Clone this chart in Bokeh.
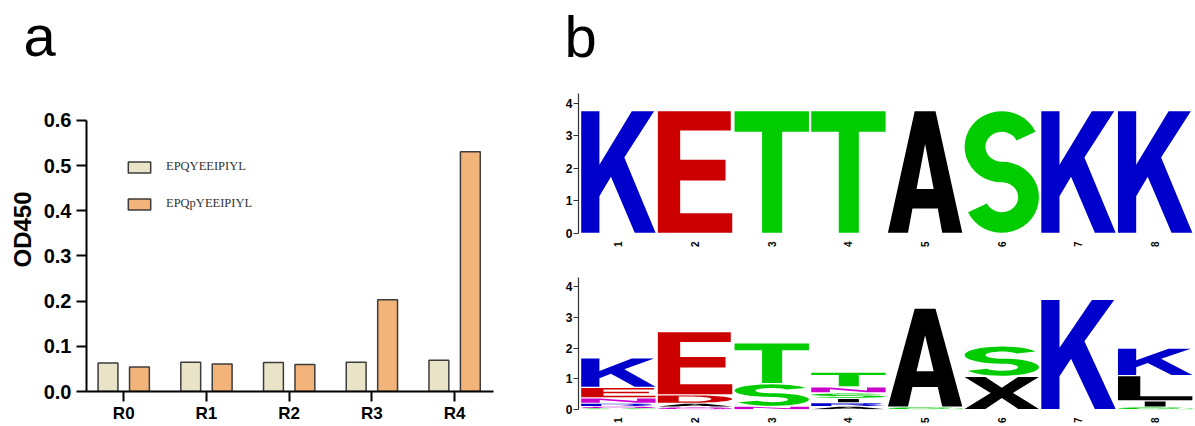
import math
import numpy as np
from bokeh.plotting import figure
from bokeh.models import (Range1d, FixedTicker, PrintfTickFormatter, Legend,
                          LegendItem, ColumnDataSource, Title)
from bokeh.transform import dodge
from bokeh.layouts import row, column
from bokeh.embed import file_html
from bokeh.resources import INLINE

# ---------------- data ----------------
panel_labels = ["a", "b"]
categories = ["R0", "R1", "R2", "R3", "R4"]
series_names = ["EPQYEEIPIYL", "EPQpYEEIPIYL"]
od_epqy = [0.063, 0.065, 0.064, 0.065, 0.069]
od_epqpy = [0.054, 0.061, 0.060, 0.203, 0.531]
y_ticks = [0.0, 0.1, 0.2, 0.3, 0.4, 0.5, 0.6]

logo_positions = [1, 2, 3, 4, 5, 6, 7, 8]
logo_ticks = [0, 1, 2, 3, 4]
logo_top_letters = ["K", "E", "T", "T", "A", "S", "K", "K"]
logo_top_heights = [3.78, 3.78, 3.78, 3.78, 3.78, 3.78, 3.78, 3.78]

# bottom logo: stacks from bottom to top
logo_bottom_letters = [
    ["G", "Q", "R", "N", "E", "K"],
    ["Q", "A", "D", "E"],
    ["N", "S", "T"],
    ["A", "R", "I", "S", "N", "T"],
    ["G", "A"],
    ["X", "S"],
    ["K"],
    ["G", "I", "L", "K"],
]
logo_bottom_heights = [
    [0.04, 0.06, 0.10, 0.18, 0.34, 0.96],
    [0.08, 0.12, 0.28, 2.06],
    [0.10, 0.74, 1.33],
    [0.10, 0.12, 0.14, 0.18, 0.20, 0.48],
    [0.08, 3.22],
    [1.08, 0.99],
    [3.59],
    [0.08, 0.20, 0.82, 0.90],
]

# ---------------- styles ----------------
BEIGE = "#E9E4C7"
ORANGE = "#F2B47A"
EDGE = "#3C3C3C"
SANS = "Liberation Sans"
LETTER_COLORS = {
    "K": "#0000CC", "R": "#0000CC", "H": "#0000CC",
    "D": "#CC0000", "E": "#CC0000",
    "S": "#00CC00", "T": "#00CC00", "G": "#00CC00", "Y": "#00CC00", "C": "#00CC00",
    "N": "#CC00CC", "Q": "#CC00CC",
}


def arc(cx, cy, rx, ry, t0, t1, n=28):
    t = np.radians(np.linspace(t0, t1, n))
    return list(zip(cx + rx * np.cos(t), cy + ry * np.sin(t)))


def s_shape(hx=0.14, hy=0.085, a0=25, a1=-155):
    ay = (0.5 - hy) / 2
    cy1, cy2 = 0.5 + ay, 0.5 - ay
    ax = 0.5 - hx
    left = arc(0.5, cy1, ax - hx, ay - hy, a0, 270) + arc(0.5, cy2, ax + hx, ay + hy, 90, a1)
    right = arc(0.5, cy2, ax - hx, ay - hy, a1, 90) + arc(0.5, cy1, ax + hx, ay + hy, 270, a0)
    return [[left + right]]


# glyph outlines in a unit box (shape templates only)
TEMPLATES = {
    "K": [[[(0, 0), (0.245, 0), (0.245, 0.3), (0.4, 0.46), (0.72, 0), (1.0, 0),
            (0.58, 0.62), (0.98, 1), (0.68, 1), (0.245, 0.56), (0.245, 1), (0, 1)]]],
    "E": [[[(0, 0), (1, 0), (1, 0.16), (0.3, 0.16), (0.3, 0.43), (0.91, 0.43),
            (0.91, 0.6), (0.3, 0.6), (0.3, 0.84), (0.98, 0.84), (0.98, 1), (0, 1)]]],
    "T": [[[(0, 1), (1, 1), (1, 0.83), (0.64, 0.83), (0.64, 0), (0.37, 0),
            (0.37, 0.83), (0, 0.83)]]],
    "A": [[[(0, 0), (0.27, 0), (0.33, 0.2), (0.67, 0.2), (0.73, 0), (1, 0),
            (0.64, 1), (0.36, 1)],
           [(0.385, 0.36), (0.615, 0.36), (0.5, 0.73)]]],
    "S": s_shape(),
    "D": [[[(0, 0)] + arc(0.45, 0.5, 0.55, 0.5, -90, 90) + [(0, 1)],
           [(0.28, 0.16)] + arc(0.45, 0.5, 0.27, 0.34, -90, 90) + [(0.28, 0.84)]]],
    "X": [[[(0, 0), (0.28, 0), (0.5, 0.34), (0.72, 0), (1, 0), (0.65, 0.5), (1, 1),
            (0.72, 1), (0.5, 0.66), (0.28, 1), (0, 1), (0.35, 0.5)]]],
    "L": [[[(0, 0), (1, 0), (1, 0.17), (0.3, 0.17), (0.3, 1), (0, 1)]]],
    "I": [[[(0.36, 0), (0.64, 0), (0.64, 1), (0.36, 1)]]],
    "N": [[[(0, 0), (0.25, 0), (0.25, 0.62), (0.75, 0), (1, 0), (1, 1), (0.75, 1),
            (0.75, 0.38), (0.25, 1), (0, 1)]]],
    "Q": [[arc(0.5, 0.5, 0.5, 0.5, 0, 360, 48), arc(0.5, 0.5, 0.26, 0.32, 0, 360, 48)],
          [[(0.55, 0.3), (0.72, 0.38), (1.0, 0.08), (0.84, 0.0)]]],
    "G": [[arc(0.5, 0.5, 0.5, 0.5, 40, 360, 40) + arc(0.5, 0.5, 0.25, 0.32, 360, 40, 40)],
          [[(0.55, 0.36), (0.55, 0.52), (1.0, 0.52), (1.0, 0.0), (0.82, 0.0), (0.82, 0.36)]]],
    "R": [[[(0, 0), (0.27, 0), (0.27, 0.42), (0.5, 0.42), (0.75, 0), (1.0, 0), (0.72, 0.46),
            (0.85, 0.55), (0.95, 0.7), (0.93, 0.88), (0.8, 0.98), (0.6, 1), (0, 1)],
           [(0.27, 0.58), (0.6, 0.58), (0.7, 0.65), (0.7, 0.78), (0.6, 0.84), (0.27, 0.84)]]],
}


def logo_source(letters_per_pos, heights_per_pos):
    xs, ys, colors = [], [], []
    w = 0.97
    for pos, letters, heights in zip(logo_positions, letters_per_pos, heights_per_pos):
        bottom = 0.0
        for ch, h in zip(letters, heights):
            pad = min(0.02, 0.12 * h)
            y0, hh = bottom + pad, h - 2 * pad
            x0 = pos - w / 2
            polys = TEMPLATES[ch]
            xs.append([[[x0 + u * w for u, v in ring] for ring in poly] for poly in polys])
            ys.append([[[y0 + v * hh for u, v in ring] for ring in poly] for poly in polys])
            colors.append(LETTER_COLORS.get(ch, "#000000"))
            bottom += h
    return ColumnDataSource(dict(xs=xs, ys=ys, color=colors))


def panel_title(text, offset):
    return Title(text=text, align="left", offset=offset, standoff=0,
                 text_font=SANS, text_font_size="58px", text_font_style="normal",
                 text_color="black")


# ---------------- panel a ----------------
# frame reaches up to the title; the axis itself is bounded to 0..0.6
pa = figure(width=548, height=426, x_range=Range1d(-0.45, 4.47), y_range=Range1d(0, 0.7173),
            output_backend="svg", toolbar_location=None,
            min_border_left=86, min_border_right=55, min_border_top=67, min_border_bottom=35)
pa.title = panel_title(panel_labels[0], -63)
pa.outline_line_color = None
pa.grid.visible = False

src = ColumnDataSource(dict(x=list(range(len(categories))), a=od_epqy, b=od_epqpy))
r1 = pa.vbar(x=dodge("x", -0.19, range=pa.x_range), top="a", width=0.24, source=src,
             fill_color=BEIGE, line_color=EDGE, line_width=1.5)
r2 = pa.vbar(x=dodge("x", 0.19, range=pa.x_range), top="b", width=0.24, source=src,
             fill_color=ORANGE, line_color=EDGE, line_width=1.5)

for ax in (pa.xaxis, pa.yaxis):
    ax.axis_line_width = 2
    ax.axis_line_color = "black"
    ax.major_tick_line_width = 2
    ax.major_tick_line_color = "black"
    ax.major_tick_in = 0
    ax.major_tick_out = 10
    ax.minor_tick_in = 0
    ax.minor_tick_out = 0
    ax.major_label_text_font = SANS
    ax.major_label_text_font_style = "bold"
    ax.major_label_text_color = "black"

pa.xaxis.ticker = FixedTicker(ticks=list(range(len(categories))))
pa.xaxis.major_label_overrides = {i: c for i, c in enumerate(categories)}
pa.xaxis.major_label_text_font_size = "17px"
pa.xaxis.major_label_standoff = 2

pa.yaxis.ticker = FixedTicker(ticks=y_ticks)
pa.yaxis.bounds = (y_ticks[0], y_ticks[-1])
pa.yaxis.formatter = PrintfTickFormatter(format="%.1f")
pa.yaxis.major_label_text_font_size = "20px"
pa.yaxis.major_label_standoff = 5
pa.yaxis.axis_label = "OD450"
pa.yaxis.axis_label_text_font = SANS
pa.yaxis.axis_label_text_font_size = "24px"
pa.yaxis.axis_label_text_font_style = "bold"
pa.yaxis.axis_label_text_color = "black"
pa.yaxis.axis_label_standoff = 5

legend = Legend(items=[LegendItem(label=series_names[0], renderers=[r1]),
                       LegendItem(label=series_names[1], renderers=[r2])],
                location=(39, 180), orientation="vertical",
                glyph_width=28, glyph_height=14, label_height=14, label_standoff=13,
                spacing=22, padding=0, margin=0, border_line_color=None,
                background_fill_alpha=0, label_text_font="Liberation Serif",
                label_text_font_size="12.5px", label_text_color="#333333")
pa.add_layout(legend)


# ---------------- panel b ----------------
def style_logo(p):
    p.outline_line_color = None
    p.grid.visible = False
    p.xaxis.ticker = FixedTicker(ticks=logo_positions)
    p.xaxis.axis_line_color = None
    p.xaxis.major_tick_line_color = None
    p.xaxis.minor_tick_line_color = None
    p.xaxis.major_label_orientation = math.pi / 2
    p.xaxis.major_label_text_font = SANS
    p.xaxis.major_label_text_font_style = "bold"
    p.xaxis.major_label_text_font_size = "10px"
    p.xaxis.major_label_text_color = "black"
    p.xaxis.major_label_standoff = 2
    p.yaxis.ticker = FixedTicker(ticks=logo_ticks)
    p.yaxis.bounds = (0, 4.3)
    p.yaxis.axis_line_color = "#333333"
    p.yaxis.axis_line_width = 1.2
    p.yaxis.major_tick_line_color = "#333333"
    p.yaxis.major_tick_in = 0
    p.yaxis.major_tick_out = 5
    p.yaxis.minor_tick_line_color = None
    p.yaxis.major_label_text_font = SANS
    p.yaxis.major_label_text_font_style = "bold"
    p.yaxis.major_label_text_font_size = "12px"
    p.yaxis.major_label_text_color = "black"
    p.yaxis.major_label_standoff = 1


pb1 = figure(width=647, height=255, x_range=Range1d(0.48, 8.5), y_range=Range1d(0, 5.07),
             output_backend="svg", toolbar_location=None,
             min_border_left=30, min_border_right=2, min_border_top=68, min_border_bottom=22)
pb1.title = panel_title(panel_labels[1], -14)
style_logo(pb1)
top_src = logo_source([[c] for c in logo_top_letters], [[h] for h in logo_top_heights])
pb1.multi_polygons(xs="xs", ys="ys", fill_color="color", line_color=None, source=top_src)

pb2 = figure(width=647, height=171, x_range=Range1d(0.48, 8.5), y_range=Range1d(0, 4.3),
             output_backend="svg", toolbar_location=None,
             min_border_left=30, min_border_right=2, min_border_top=22, min_border_bottom=9)
style_logo(pb2)
bot_src = logo_source(logo_bottom_letters, logo_bottom_heights)
pb2.multi_polygons(xs="xs", ys="ys", fill_color="color", line_color=None, source=bot_src)

layout = row(pa, column(pb1, pb2))
open("out.html", "w").write(file_html(layout, INLINE))
